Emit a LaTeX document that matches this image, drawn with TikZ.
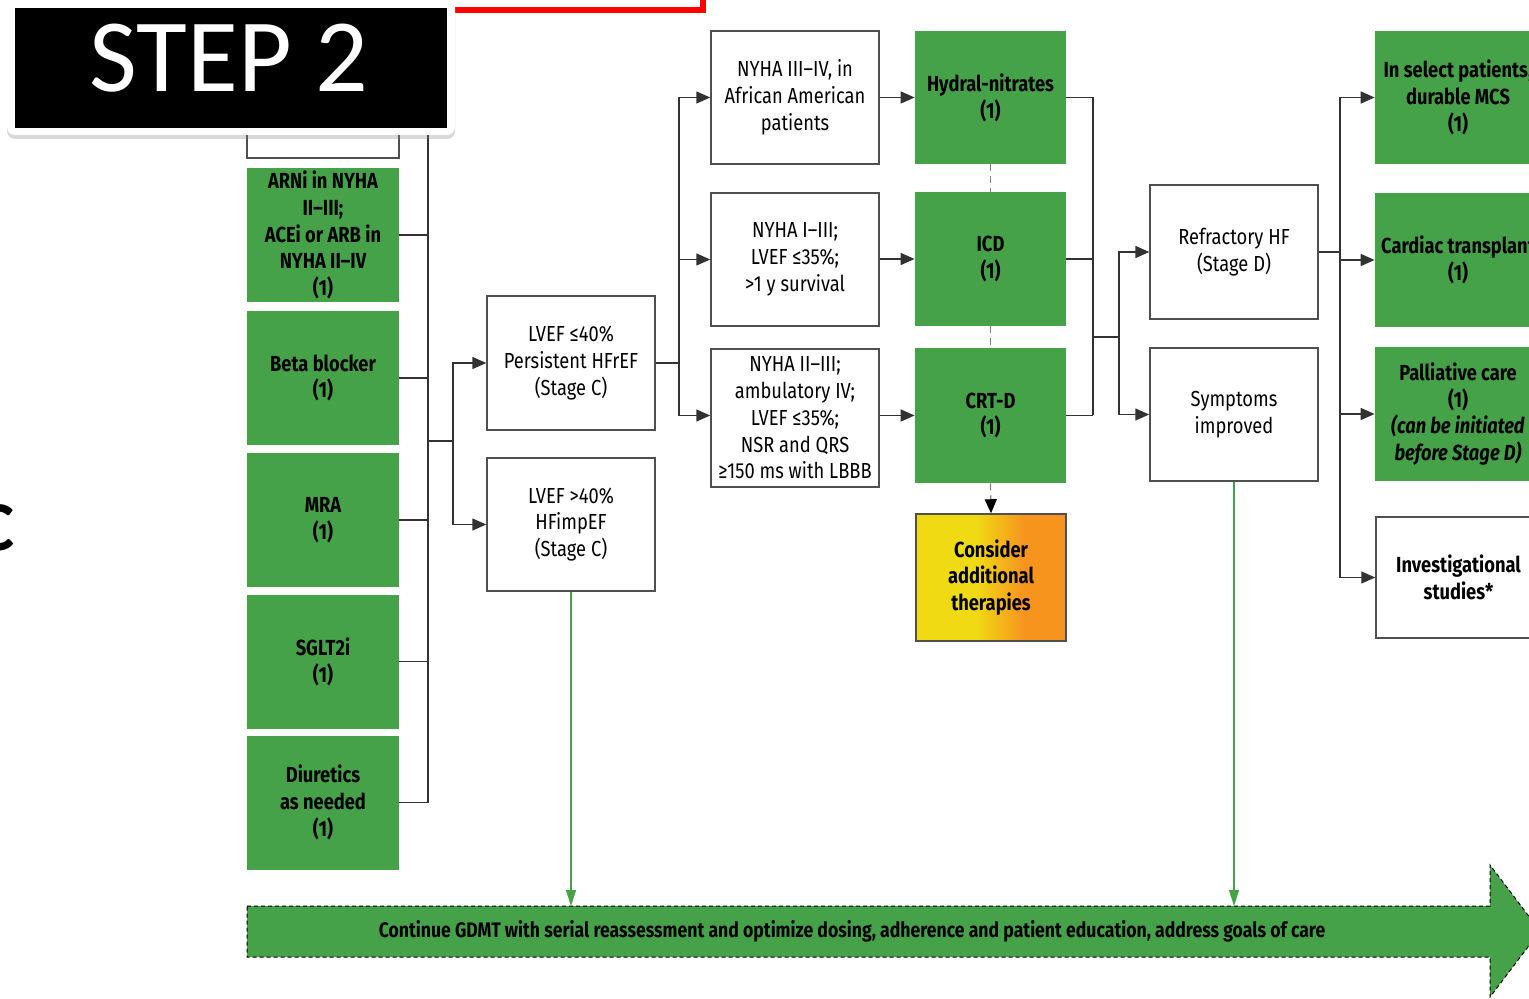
\documentclass[tikz,border=0pt]{standalone}
\usepackage{fontspec}
\setmainfont{Fira Sans}[FakeStretch=0.84]
\newfontfamily\stepfont{Carlito}
\usetikzlibrary{arrows.meta,shadows,calc}

\definecolor{hfgreen}{RGB}{70,162,72}
\definecolor{boxgray}{RGB}{80,80,80}
\definecolor{linegray}{RGB}{50,50,50}
\definecolor{hfyellow}{RGB}{240,218,20}
\definecolor{hforange}{RGB}{247,148,30}
\pgfdeclarehorizontalshading{yelloworange}{100bp}{color(0bp)=(hfyellow); color(45bp)=(hfyellow); color(61bp)=(hforange); color(100bp)=(hforange)}
\newcommand\hfboxfont{\fontsize{10.9}{13.4}\selectfont}

\begin{document}
\begin{tikzpicture}[x=0.5pt,y=-0.5pt,
  wbox/.style={draw=boxgray, line width=0.75pt, fill=white, align=center, inner sep=0pt, font=\hfboxfont},
  gbox/.style={fill=hfgreen, draw=none, align=center, inner sep=0pt, font=\hfboxfont\bfseries},
  link/.style={draw=linegray, line width=0.75pt},
  arr/.style={link, -{Triangle[length=7pt,width=6pt]}},
  gline/.style={draw=hfgreen, line width=0.6pt, -{Triangle[length=8pt,width=5pt]}},
  dline/.style={draw=gray, line width=0.6pt, dash pattern=on 3.5pt off 2.5pt},
  lcol/.style={minimum width=76pt, minimum height=67pt},
  mcol/.style={minimum width=84pt, minimum height=66.5pt},
  gcol/.style={minimum width=75.5pt, minimum height=67pt},
  rcol/.style={minimum width=83pt, minimum height=66.5pt}]
\useasboundingbox (0,0) rectangle (1529,999);

% red outline peeking in at the top
\draw[red, line width=3pt] (300,10) -- (703,10) -- (703,-20);

% letter fragment at the left edge
\node[anchor=east, inner sep=0pt, font=\stepfont\bfseries\fontsize{35}{35}\selectfont] (cfrag) at (15,528) {C};

% left column: drug therapies
\node[wbox, minimum width=76pt, minimum height=49pt] (topw) at (323,109) {};
\node[gbox, lcol] (arni) at (323,235) {ARNi in NYHA\\II–III;\\ACEi or ARB in\\NYHA II–IV\\(1)};
\node[gbox, lcol] (beta) at (323,378) {Beta blocker\\(1)};
\node[gbox, lcol] (mra) at (323,520) {MRA\\(1)};
\node[gbox, lcol] (sglt) at (323,661.5) {SGLT2i\\(1)};
\node[gbox, lcol] (diur) at (323,802.5) {Diuretics\\as needed\\(1)};

\coordinate (tL) at (428,120);
\draw[link] (tL) -- (tL |- diur.east);
\foreach \b in {arni,beta,mra,sglt,diur}
  \draw[link] (\b.east) -- (\b.east -| tL);

% LVEF split
\node[wbox, mcol, minimum height=67pt] (lvefr) at (571,363) {LVEF ≤40\%\\Persistent HFrEF\\(Stage C)};
\node[wbox, mcol] (lvefi) at (571,524.5) {LVEF >40\%\\HFimpEF\\(Stage C)};
\coordinate (bL) at (453,441);
\draw[link] (tL |- bL) -- (bL);
\draw[arr] (bL) |- (lvefr.west);
\draw[arr] (bL) |- (lvefi.west);

% device / hydralazine criteria
\node[wbox, mcol] (nyha1) at (795,97.5) {NYHA III–IV, in\\African American\\patients};
\node[wbox, mcol] (nyha2) at (795,259.5) {NYHA I–III;\\LVEF ≤35\%;\\>1 y survival};
\node[wbox, mcol, minimum height=69pt] (nyha3) at (795,418) {NYHA II–III;\\ambulatory IV;\\LVEF ≤35\%;\\NSR and QRS\\≥150 ms with LBBB};

\node[gbox, gcol, minimum height=66.5pt] (hyd) at (990.5,97.5) {Hydral-nitrates\\(1)};
\node[gbox, gcol] (icd) at (990.5,259) {ICD\\(1)};
\node[gbox, gcol, minimum height=67.5pt] (crtd) at (990.5,415.5) {CRT-D\\(1)};
\node[draw=boxgray, line width=0.75pt, shading=yelloworange, align=center, inner sep=0pt,
      font=\hfboxfont\bfseries, minimum width=75pt, minimum height=63.5pt] (cons) at (991,577.5) {Consider\\additional\\therapies};

\draw[link] (lvefr.east) -- ++(23,0) coordinate (tM);
\draw[arr] (tM) |- (nyha1.west);
\draw[arr] (tM) |- (nyha2.west);
\draw[arr] (tM) |- (nyha3.west |- crtd.west);
\draw[arr] (nyha1.east) -- (hyd.west);
\draw[arr] (nyha2.east |- icd.west) -- (icd.west);
\draw[arr] (nyha3.east |- crtd.west) -- (crtd.west);

\draw[dline] (hyd.south) -- (icd.north);
\draw[dline] (icd.south) -- (crtd.north);
\draw[dline, -{Triangle[length=7pt,width=6pt,color=black]}] (crtd.south) -- (cons.north);

% outcome after devices
\node[wbox, mcol, minimum height=67pt] (refr) at (1234,252) {Refractory HF\\(Stage D)};
\node[wbox, mcol] (symp) at (1234,414.5) {Symptoms\\improved};
\coordinate (tR) at (1093,0);
\foreach \b in {hyd,icd,crtd}
  \draw[link] (\b.east) -- (\b.east -| tR);
\draw[link] (tR |- hyd.east) -- (tR |- crtd.east);
\coordinate (bR) at (1119,337);
\draw[link] (tR |- bR) -- (bR);
\draw[arr] (bR) |- (refr.west);
\draw[arr] (bR) |- (symp.west);

% Stage D options
\node[gbox, rcol] (mcs) at (1458,97.5) {In select patients,\\durable MCS\\(1)};
\node[gbox, rcol, minimum height=67pt] (ctx) at (1458,260) {Cardiac transplant\\(1)};
\node[gbox, rcol, minimum height=67pt] (pall) at (1458,414) {Palliative care\\(1)\\\textit{(can be initiated}\\\textit{before Stage D)}};
\node[wbox, font=\hfboxfont\bfseries, minimum width=82.5pt, minimum height=60.5pt] (inv) at (1458.5,577.5) {Investigational\\studies*};
\draw[link] (refr.east) -- ++(21,0) coordinate (tF);
\foreach \b in {mcs,ctx,pall,inv}
  \draw[arr] (tF) |- (\b.west);

% continuing GDMT arrow
\draw[fill=hfgreen, draw=black, line width=0.5pt, dash pattern=on 2pt off 1.5pt]
  (247,906) -- (1490,906) -- (1490,865) -- (1540,931) -- (1490,997) -- (1490,957) -- (247,957) -- cycle;
\node[font=\fontsize{10.5}{12}\selectfont\bfseries, inner sep=0pt] (gdmt) at (852,931)
  {Continue GDMT with serial reassessment and optimize dosing, adherence and patient education, address goals of care};
\coordinate (gtop) at (0,906);
\draw[gline] (lvefi.south) -- (lvefi.south |- gtop);
\draw[gline] (symp.south) -- (symp.south |- gtop);

% step banner
\node[fill=white, rounded corners=4pt, minimum width=224pt, minimum height=70pt,
      drop shadow={shadow xshift=0pt, shadow yshift=-2pt, opacity=0.3}] (stepframe) at (231,65) {};
\node[fill=black, inner sep=0pt, minimum width=216pt, minimum height=60pt] (stepbg) at (231,68) {};
\node[text=white, inner sep=0pt, font=\stepfont\fontsize{52}{52}\selectfont] (steplabel) at (229,58.5) {STEP 2};
\end{tikzpicture}
\end{document}
